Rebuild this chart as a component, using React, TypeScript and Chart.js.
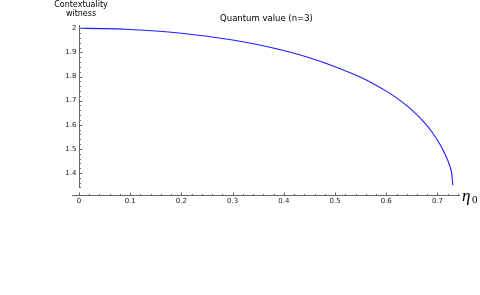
import React, { useEffect, useRef } from "react";
import { Chart, registerables } from "chart.js";

Chart.register(...registerables);

const etaValues = [0, 0.05, 0.1, 0.15, 0.2, 0.25, 0.3, 0.35, 0.4, 0.45, 0.5, 0.55, 0.6, 0.61, 0.62, 0.63, 0.64, 0.65, 0.66, 0.67, 0.68, 0.69, 0.7, 0.71, 0.72, 0.725, 0.728, 0.73];
const quantumValues = [2.0, 1.9988, 1.995, 1.9888, 1.9795, 1.967, 1.9515, 1.932, 1.908, 1.878, 1.841, 1.797, 1.7395, 1.726, 1.7115, 1.696, 1.6792, 1.661, 1.6412, 1.6196, 1.5958, 1.5678, 1.5358, 1.4988, 1.4528, 1.4228, 1.3958, 1.35];
const xTickLabels = ["0", "0.1", "0.2", "0.3", "0.4", "0.5", "0.6", "0.7"];
const yTickLabels = ["1.4", "1.5", "1.6", "1.7", "1.8", "1.9", "2"];
const titleText = "Quantum value (n=3)";
const yAxisTitle = ["Contextuality", "witness"];

const X_MIN = -0.0137;
const X_MAX = 0.744;
const Y_MIN = 1.3047;
const Y_MAX = 2.0137;
const Y_AXIS_END = 1.338;

const axesPlugin = {
  id: "mmaAxes",
  afterDraw(chart: any) {
    const ctx = chart.ctx as CanvasRenderingContext2D;
    const xs = chart.scales.x;
    const ys = chart.scales.y;
    const axisColor = "#666";
    ctx.save();
    ctx.strokeStyle = axisColor;
    ctx.lineWidth = 1;
    const xAxisY = Math.round(ys.getPixelForValue(Y_MIN)) - 0.5;
    const yAxisX = Math.round(xs.getPixelForValue(0)) + 0.5;
    ctx.beginPath();
    ctx.moveTo(xs.left, xAxisY);
    ctx.lineTo(xs.right, xAxisY);
    ctx.stroke();
    ctx.beginPath();
    ctx.moveTo(yAxisX, ys.getPixelForValue(Y_MAX));
    ctx.lineTo(yAxisX, ys.getPixelForValue(Y_AXIS_END));
    ctx.stroke();
    for (let i = 0; i <= 37; i++) {
      const v = i * 0.02;
      const px = Math.round(xs.getPixelForValue(v)) + 0.5;
      const len = i % 5 === 0 ? 3 : 1.5;
      ctx.beginPath();
      ctx.moveTo(px, xAxisY);
      ctx.lineTo(px, xAxisY - len);
      ctx.stroke();
    }
    for (let i = 67; i <= 100; i++) {
      const v = i * 0.02;
      const py = Math.round(ys.getPixelForValue(v)) + 0.5;
      const len = i % 5 === 0 ? 3 : 1.5;
      ctx.beginPath();
      ctx.moveTo(yAxisX, py);
      ctx.lineTo(yAxisX + len, py);
      ctx.stroke();
    }
    ctx.fillStyle = "#222";
    ctx.font = "7px 'DejaVu Sans'";
    ctx.textAlign = "center";
    ctx.textBaseline = "top";
    xTickLabels.forEach((t) => {
      ctx.fillText(t, xs.getPixelForValue(parseFloat(t)), xAxisY + 2.5);
    });
    ctx.textAlign = "right";
    ctx.textBaseline = "middle";
    yTickLabels.forEach((t) => {
      ctx.fillText(t, yAxisX - 3, ys.getPixelForValue(parseFloat(t)));
    });
    ctx.fillStyle = "#000";
    ctx.font = "8.5px 'DejaVu Sans'";
    ctx.textAlign = "center";
    ctx.textBaseline = "middle";
    ctx.fillText(titleText, 266.5, 19);
    ctx.font = "8px 'DejaVu Sans'";
    ctx.fillText(yAxisTitle[0], yAxisX + 1.5, 4.5);
    ctx.fillText(yAxisTitle[1], yAxisX + 1.5, 14);
    ctx.textAlign = "left";
    ctx.textBaseline = "alphabetic";
    ctx.font = "italic 17px 'Liberation Serif'";
    ctx.fillText("\u03B7", xs.right + 2, 200.5);
    ctx.font = "11px 'Liberation Serif'";
    ctx.fillText("0", xs.right + 12, 203);
    ctx.restore();
  },
};

export default function App() {
  const canvasRef = useRef<HTMLCanvasElement>(null);
  useEffect(() => {
    const canvas = canvasRef.current;
    if (!canvas) return;
    const chart = new Chart(canvas, {
      type: "line",
      data: {
        datasets: [
          {
            data: etaValues.map((x, i) => ({ x, y: quantumValues[i] })),
            borderColor: "rgb(30,30,255)",
            borderWidth: 1.1,
            pointRadius: 0,
            fill: false,
            cubicInterpolationMode: "monotone",
          },
        ],
      },
      options: {
        responsive: false,
        animation: false,
        devicePixelRatio: 1,
        layout: { padding: { left: 72, right: 20, top: 25, bottom: 99 } },
        plugins: { legend: { display: false }, tooltip: { enabled: false }, title: { display: false } },
        scales: {
          x: { type: "linear", min: X_MIN, max: X_MAX, display: false },
          y: { type: "linear", min: Y_MIN, max: Y_MAX, display: false },
        },
      },
      plugins: [axesPlugin],
    });
    return () => chart.destroy();
  }, []);
  return (
    <div style={{ position: "absolute", left: 0, top: 0, width: 480, height: 295, background: "#fff" }}>
      <canvas ref={canvasRef} width={480} height={295} style={{ width: 480, height: 295, display: "block" }} />
    </div>
  );
}
